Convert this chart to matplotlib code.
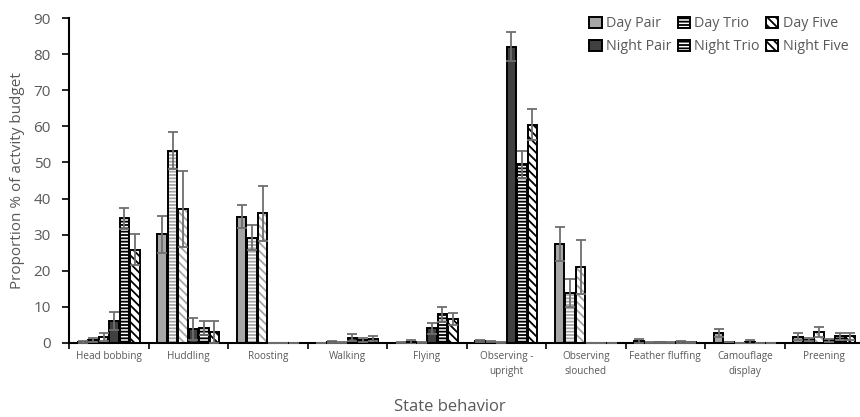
import matplotlib
matplotlib.use("Agg")
import matplotlib.pyplot as plt
from matplotlib.patches import Patch
import numpy as np

categories = ["Head bobbing", "Huddling", "Roosting", "Walking", "Flying",
              "Observing -\nupright", "Observing\nslouched", "Feather fluffing",
              "Camouflage\ndisplay", "Preening"]
series = ["Day Pair", "Day Trio", "Day Five", "Night Pair", "Night Trio", "Night Five"]

day_pair = [0.3, 30.1, 35.0, 0.0, 0.1, 0.5, 27.4, 0.6, 2.7, 1.8]
day_pair_err = [0.2, 5.1, 3.2, 0.0, 0.1, 0.3, 4.8, 0.6, 1.1, 1.1]
day_trio = [0.8, 53.3, 29.2, 0.3, 0.3, 0.4, 13.8, 0.1, 0.3, 0.9]
day_trio_err = [0.5, 5.1, 3.4, 0.2, 0.5, 0.2, 3.9, 0.1, 0.1, 0.4]
day_five = [1.6, 37.0, 35.9, 0.1, 0.1, 0.1, 21.1, 0.2, 0.0, 3.1]
day_five_err = [1.1, 10.5, 7.7, 0.1, 0.1, 0.1, 7.4, 0.1, 0.0, 1.4]
night_pair = [6.2, 3.8, 0.0, 1.5, 4.1, 82.1, 0.0, 0.1, 0.3, 0.7]
night_pair_err = [2.5, 3.0, 0.0, 0.9, 1.5, 3.9, 0.0, 0.1, 0.5, 0.3]
night_trio = [34.5, 4.1, 0.0, 0.8, 7.9, 49.5, 0.0, 0.3, 0.0, 1.9]
night_trio_err = [3.0, 2.0, 0.0, 0.5, 2.2, 3.8, 0.0, 0.2, 0.0, 1.0]
night_five = [25.8, 3.0, 0.0, 1.2, 6.6, 60.4, 0.0, 0.2, 0.0, 1.9]
night_five_err = [4.3, 3.1, 0.0, 0.7, 1.6, 4.3, 0.0, 0.1, 0.0, 1.0]

values = [day_pair, day_trio, day_five, night_pair, night_trio, night_five]
errors = [day_pair_err, day_trio_err, day_five_err, night_pair_err, night_trio_err, night_five_err]

styles = [
    dict(fc="#a6a6a6", hatch=None, hc=None),
    dict(fc="white", hatch="-----", hc="#a6a6a6"),
    dict(fc="white", hatch="\\\\\\\\", hc="#a6a6a6"),
    dict(fc="#404040", hatch=None, hc=None),
    dict(fc="white", hatch="-----", hc="black"),
    dict(fc="white", hatch="\\\\\\\\", hc="black"),
]

plt.rcParams['font.family'] = ['Open Sans', 'DejaVu Sans']
plt.rcParams['hatch.linewidth'] = 1.3

fig = plt.figure(figsize=(8.6, 4.17), dpi=100)
ax = fig.add_axes([69/860, 74/417, 795/860, 325/417])

x = np.arange(len(categories))
step = 0.132
width = 0.118
tc = "#595959"
handles = []
for i, (vals, errs, st) in enumerate(zip(values, errors, styles)):
    pos = x + (i - 2.5) * step
    if st["hatch"]:
        ax.bar(pos, vals, width, color=st["fc"], edgecolor=st["hc"], hatch=st["hatch"],
               linewidth=0, zorder=2)
    else:
        ax.bar(pos, vals, width, color=st["fc"], linewidth=0, zorder=2)
    ax.bar(pos, vals, width, fill=False, edgecolor="black", linewidth=1.4, zorder=3)
    ax.errorbar(pos, vals, yerr=errs, fmt="none", ecolor="#6e6e6e", elinewidth=1.3,
                capsize=3.5, capthick=1.3, zorder=4)
    if st["hatch"]:
        h = Patch(facecolor=st["fc"], edgecolor="black", hatch=st["hatch"], linewidth=1.4)
    else:
        h = Patch(facecolor=st["fc"], edgecolor="black", linewidth=1.4)
    handles.append(h)

ax.set_xlim(-0.5, len(categories) - 0.5)
ax.set_ylim(0, 90)
ax.set_yticks(np.arange(0, 91, 10))
ax.set_xticks(x)
ax.set_xticklabels(categories, fontsize=7.2, color=tc, linespacing=1.5)
ax.tick_params(axis='x', length=0, pad=6)
ax.set_xticks(np.arange(-0.5, len(categories), 1), minor=True)
ax.tick_params(axis='x', which='minor', length=4, width=1.2, direction='out')
ax.tick_params(axis='y', length=5, width=1.2, labelsize=11, labelcolor=tc, direction='out', pad=8)
for s in ["top", "right"]:
    ax.spines[s].set_visible(False)
for s in ["left", "bottom"]:
    ax.spines[s].set_linewidth(1.5)

fig.text(18/860, 1 - 181/417, "Proportion % of actvity budget", fontsize=11, color=tc,
         rotation=90, ha="center", va="center")
fig.text(450/860, 1 - 407/417, "State behavior", fontsize=12, color=tc,
         ha="center", va="center")

order = [0, 3, 1, 4, 2, 5]
leg = ax.legend([handles[k] for k in order], [series[k] for k in order], ncol=3,
                loc="upper left", bbox_to_anchor=(578/860, 1 - 5/417), bbox_transform=fig.transFigure,
                frameon=False, fontsize=10.3, handlelength=0.85, handleheight=0.85,
                handletextpad=0.3, columnspacing=0.45, labelspacing=0.55, borderpad=0.3)
for t in leg.get_texts():
    t.set_color(tc)

fig.savefig("out.png", dpi=100)
